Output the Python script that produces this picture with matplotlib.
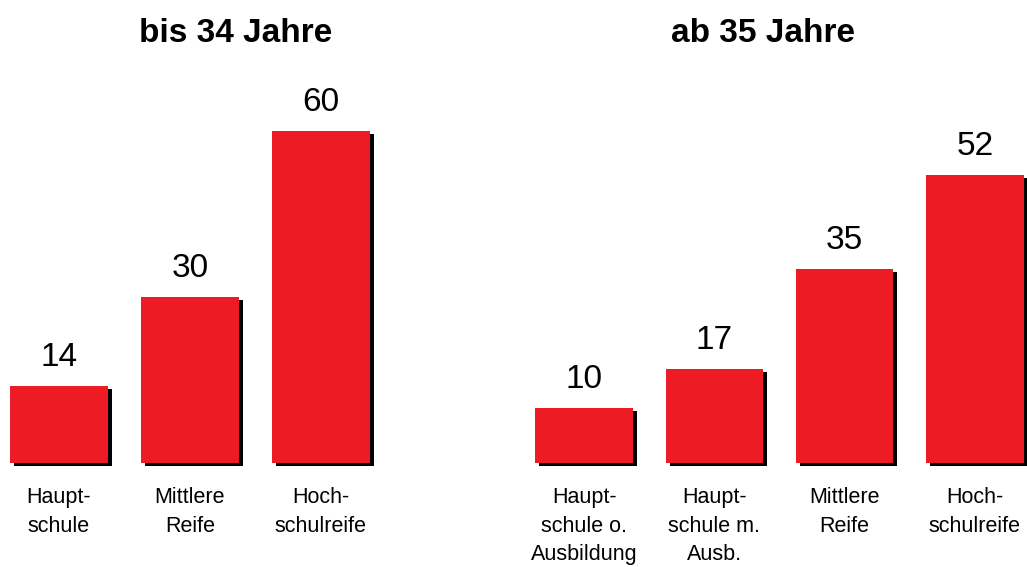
import matplotlib.pyplot as plt

plt.rcParams['font.family'] = ['Liberation Sans', 'DejaVu Sans']

# data
young_labels = ['Haupt-\nschule', 'Mittlere\nReife', 'Hoch-\nschulreife']
young_values = [14, 30, 60]
old_labels = ['Haupt-\nschule o.\nAusbildung', 'Haupt-\nschule m.\nAusb.', 'Mittlere\nReife', 'Hoch-\nschulreife']
old_values = [10, 17, 35, 52]

red = '#ED1C24'
W, H = 1027, 567
fig = plt.figure(figsize=(W / 100, H / 100), dpi=100)

px_per_unit = 5.53
base_px = 463   # baseline from top
top_px = 60


def panel(left_px, right_px, xlim, labels, values):
    ax = fig.add_axes([left_px / W, (H - base_px) / H,
                       (right_px - left_px) / W, (base_px - top_px) / H])
    ax.set_xlim(*xlim)
    ax.set_ylim(0, (base_px - top_px) / px_per_unit)
    ax.axis('off')
    x = list(range(len(values)))
    unit_x = (right_px - left_px) / (xlim[1] - xlim[0])
    dx = 4 / unit_x
    dy = 3 / px_per_unit
    # shadow
    ax.bar([i + dx for i in x], values, width=0.75, bottom=-dy,
           color='black', clip_on=False, zorder=1)
    ax.bar(x, values, width=0.75, color=red, clip_on=False, zorder=2)
    for i, v in zip(x, values):
        ax.text(i, v + 20 / px_per_unit, str(v), ha='center', va='baseline',
                fontsize=24, clip_on=False)
        ax.text(i, -24 / px_per_unit, labels[i], ha='center', va='top',
                fontsize=15.5, linespacing=1.47, clip_on=False)
    return ax


panel(0, 393, (-0.45, 2.55), young_labels, young_values)
panel(519, 1027, (-0.5, 3.4), old_labels, old_values)

fig.text(236 / W, 1 - 33 / H, 'bis 34 Jahre', ha='center', va='center',
         fontsize=24, fontweight='bold')
fig.text(763 / W, 1 - 33 / H, 'ab 35 Jahre', ha='center', va='center',
         fontsize=24, fontweight='bold')

fig.savefig('out.png', dpi=100)
